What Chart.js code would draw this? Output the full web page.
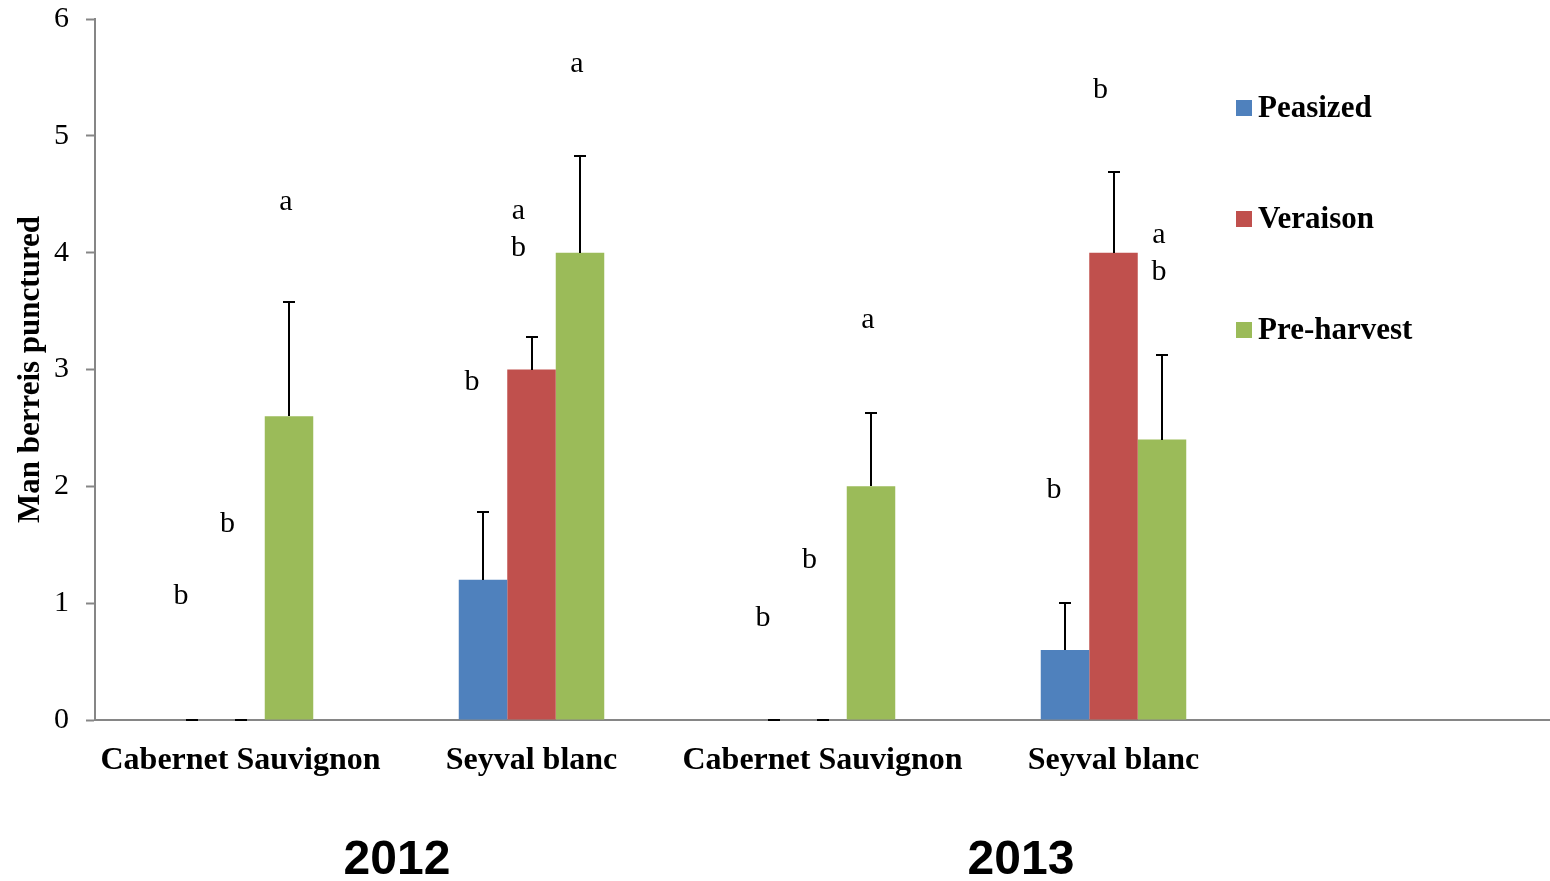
<!DOCTYPE html>
<html>
<head>
<meta charset="utf-8">
<script src="https://cdn.jsdelivr.net/npm/chart.js@4.4.1/dist/chart.umd.min.js"></script>
<style>
  html, body { margin: 0; padding: 0; background: #fff; }
  #wrap { width: 1550px; height: 881px; }
</style>
</head>
<body>
<div id="wrap"><canvas id="chart"></canvas></div>
<script>
// categories (last slot is empty, as in the original)
const categories = ['Cabernet Sauvignon', 'Seyval blanc', 'Cabernet Sauvignon', 'Seyval blanc', ''];
const years = ['2012', '2013'];
const seriesNames = ['Peasized', 'Veraison', 'Pre-harvest'];

// mean berries punctured
const peasized   = [0, 1.2, 0, 0.6, null];
const veraison   = [0, 3.0, 0, 4.0, null];
const preharvest = [2.6, 4.0, 2.0, 2.4, null];

// upper error (added on top of the bar)
const peasizedErr   = [0, 0.58, 0, 0.40, null];
const veraisonErr   = [0, 0.28, 0, 0.69, null];
const preharvestErr = [0.98, 0.83, 0.63, 0.72, null];

// significance letters and the height (in axis units) they sit at
const peasizedLetters   = ['b', 'b', 'b', 'b', null];
const veraisonLetters   = ['b', 'ab', 'b', 'b', null];
const preharvestLetters = ['a', 'a', 'a', 'ab', null];
const peasizedLetterY   = [1.06, 2.89, 0.87, 1.97, null];
const veraisonLetterY   = [1.68, 4.20, 1.37, 5.39, null];
const preharvestLetterY = [4.43, 5.61, 3.42, 4.00, null];

const yTicks = [0, 1, 2, 3, 4, 5, 6];

const colors = ['#4F81BD', '#C0504D', '#9BBB59'];
const serif = '"Liberation Serif", "Times New Roman", serif';

const errors = [peasizedErr, veraisonErr, preharvestErr];
const letters = [peasizedLetters, veraisonLetters, preharvestLetters];
const letterY = [peasizedLetterY, veraisonLetterY, preharvestLetterY];
const letterShift = [-11, -13, -3];

/* error bars drawn upward only, with a cap */
const errorBars = {
    id: 'errorBars',
    afterDatasetsDraw(chart) {
        const ctx = chart.ctx;
        const y = chart.scales.y;
        ctx.save();
        ctx.strokeStyle = '#000';
        ctx.lineWidth = 2;
        chart.data.datasets.forEach((ds, i) => {
            const meta = chart.getDatasetMeta(i);
            meta.data.forEach((bar, j) => {
                const err = errors[i][j];
                const v = ds.data[j];
                if (err == null || v == null) return;
                const top = Math.round(y.getPixelForValue(v + err));
                const x = Math.round(bar.x);
                ctx.beginPath();
                ctx.moveTo(x, Math.round(bar.y));
                ctx.lineTo(x, top);
                ctx.moveTo(x - 6, top);
                ctx.lineTo(x + 6, top);
                ctx.stroke();
            });
        });
        ctx.restore();
    }
};

/* letters, legend and year labels */
const extras = {
    id: 'extras',
    afterDraw(chart) {
        const ctx = chart.ctx;
        const y = chart.scales.y;
        ctx.save();
        ctx.fillStyle = '#000';
        ctx.textAlign = 'center';
        ctx.textBaseline = 'middle';
        ctx.font = '30px ' + serif;
        chart.data.datasets.forEach((ds, i) => {
            const meta = chart.getDatasetMeta(i);
            meta.data.forEach((bar, j) => {
                const t = letters[i][j];
                if (!t) return;
                const x = bar.x + letterShift[i];
                const cy = y.getPixelForValue(letterY[i][j]);
                if (t.length === 2) {
                    ctx.fillText(t[0], x, cy - 18);
                    ctx.fillText(t[1], x, cy + 19);
                } else {
                    ctx.fillText(t, x, cy);
                }
            });
        });

        // legend
        ctx.textAlign = 'left';
        ctx.font = 'bold 31px ' + serif;
        chart.data.datasets.forEach((ds, i) => {
            const cy = 108 + i * 111;
            ctx.fillStyle = ds.backgroundColor;
            ctx.fillRect(1236, cy - 8, 16, 16);
            ctx.fillStyle = '#000';
            ctx.fillText(ds.label, 1258, cy + 1);
        });

        // years
        ctx.textAlign = 'center';
        ctx.font = 'bold 48px "Liberation Sans", Arial, sans-serif';
        ctx.fillText(years[0], 397, 861);
        ctx.fillText(years[1], 1021, 861);
        ctx.restore();
    }
};

const seriesData = [peasized, veraison, preharvest];

new Chart(document.getElementById('chart'), {
    type: 'bar',
    data: {
        labels: categories,
        datasets: seriesNames.map((name, i) => ({
            label: name,
            data: seriesData[i],
            backgroundColor: colors[i],
            borderWidth: 0,
            barPercentage: 1.0,
            categoryPercentage: 0.5,
        })),
    },
    options: {
        responsive: true,
        maintainAspectRatio: false,
        animation: false,
        layout: { padding: { top: 19, right: -9, left: 0, bottom: 0 } },
        plugins: {
            legend: { display: false },
            tooltip: { enabled: false },
        },
        scales: {
            x: {
                grid: { drawOnChartArea: false, drawTicks: false },
                border: { color: '#868686', width: 2 },
                ticks: {
                    color: '#000',
                    padding: 22,
                    maxRotation: 0,
                    autoSkip: false,
                    font: { family: serif, size: 32, weight: 'bold' },
                },
                afterFit: (s) => { s.height = 161; },
            },
            y: {
                min: 0,
                max: 6,
                afterBuildTicks: (s) => { s.ticks = yTicks.map(v => ({ value: v })); },
                grid: { drawOnChartArea: false, drawTicks: true, tickLength: 9, tickColor: '#868686', tickWidth: 2 },
                border: { color: '#868686', width: 2 },
                ticks: {
                    color: '#000',
                    padding: 17,
                    font: { family: serif, size: 30 },
                },
                title: {
                    display: true,
                    text: 'Man berreis punctured',
                    color: '#000',
                    padding: { top: 12, bottom: 0 },
                    font: { family: serif, size: 31, weight: 'bold' },
                },
                afterFit: (s) => {
                    s.width = 95;
                    s.paddingTop = 0;
                    s.paddingBottom = 0;
                },
            },
        },
    },
    plugins: [errorBars, extras],
});
</script>
</body>
</html>
